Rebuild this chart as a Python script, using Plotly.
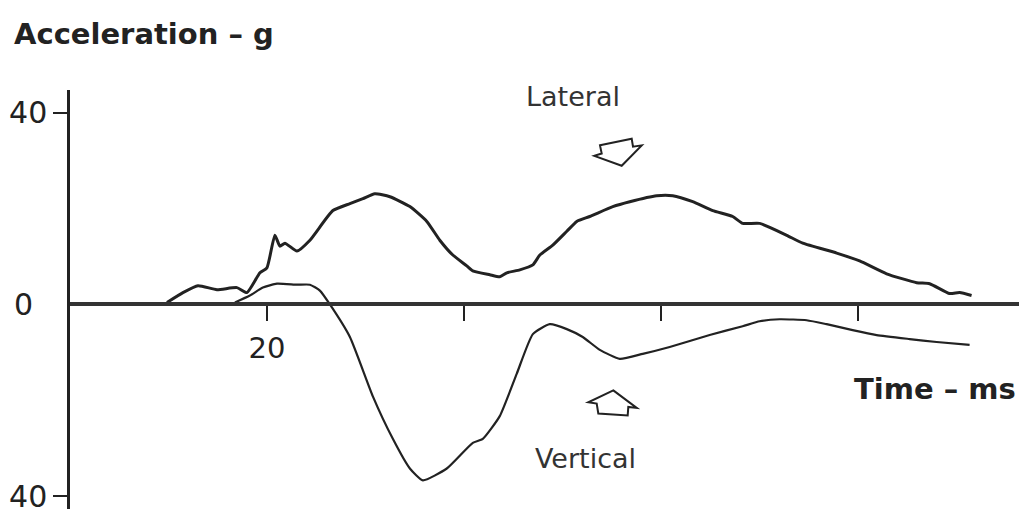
import plotly.graph_objects as go

# ---- data (time in ms, acceleration in g) ----
lateral_t = [9.85, 11.47, 13.0, 14.92, 16.95, 17.97, 19.29, 20.0, 20.81, 21.32, 21.83, 23.05,
             24.37, 26.70, 28.43, 29.75, 30.96, 32.49, 34.52, 36.24, 37.56, 38.88, 40.30,
             40.91, 42.64, 43.65, 44.37, 45.69, 47.01, 47.72, 49.04, 50.46, 51.47, 52.79,
             55.13, 56.85, 59.59, 61.22, 63.25, 65.28, 67.31, 68.32, 70.05, 72.79, 74.42,
             77.87, 80.20, 82.94, 85.99, 87.31, 89.34, 90.36, 91.57]
lateral_g = [0.41, 2.47, 3.92, 3.09, 3.51, 2.47, 6.6, 7.63, 14.43, 12.16, 12.78, 11.13,
             13.40, 19.59, 21.03, 22.06, 23.09, 22.47, 20.41, 17.32, 13.40, 10.31, 8.04,
             7.01, 6.19, 5.77, 6.60, 7.22, 8.25, 10.31, 12.37, 15.26, 17.32, 18.35,
             20.41, 21.44, 22.68, 22.68, 21.44, 19.59, 18.35, 16.91, 16.91, 14.43, 12.78,
             10.72, 9.07, 6.39, 4.54, 4.33, 2.27, 2.47, 1.86]

vertical_t = [16.75, 18.27, 19.59, 21.02, 23.05, 24.37, 25.38, 26.40, 28.43, 30.76, 32.79,
              34.52, 35.84, 38.27, 40.91, 41.93, 43.65, 45.38, 47.01, 48.73, 50.46, 52.08,
              53.81, 55.84, 58.17, 60.91, 64.97, 68.32, 70.05, 72.08, 74.82, 76.85, 79.49,
              81.93, 85.28, 88.02, 91.37]
vertical_g = [0.41, 1.86, 3.51, 4.33, 4.12, 4.12, 2.89, 0.0, -6.80, -19.18, -28.04,
              -34.23, -36.70, -34.23, -28.87, -28.04, -23.30, -14.43, -6.19, -4.12, -5.15, -6.80,
              -9.48, -11.34, -10.31, -8.87, -6.39, -4.54, -3.51, -3.09, -3.30, -4.12, -5.36,
              -6.39, -7.22, -7.84, -8.45]

x_tick_vals = [20, 40, 60, 80]
x_tick_text = ["20", "", "", ""]
y_tick_vals = [40, -40]
y_tick_text = ["40", "40"]
y_zero_vals = [0]
y_zero_text = ["0"]

# ---- layout geometry (reference pixel coords; page body has an 8px margin) ----
OFF = 8
W, H = 1027 - OFF, 514 - OFF
ML, MR, MT, MB = 70 - OFF, 0, 90 - OFF, 0
X_RANGE = [0, 97.2]
Y_RANGE = [-42.68, 44.74]
PW, PH = W - ML - MR, H - MT - MB


def px(xp):
    return (xp - OFF - ML) / PW


def py(yp):
    return (H - MB - (yp - OFF)) / PH


INK = "#222222"
FONT = "DejaVu Sans"

fig = go.Figure()
fig.add_trace(go.Scatter(x=lateral_t, y=lateral_g, mode="lines",
                         line=dict(color=INK, width=3, shape="spline", smoothing=0.5),
                         name="Lateral", showlegend=False, hoverinfo="skip"))
fig.add_trace(go.Scatter(x=vertical_t, y=vertical_g, mode="lines", yaxis="y2",
                         line=dict(color=INK, width=2.2, shape="spline", smoothing=0.5),
                         name="Vertical", showlegend=False, hoverinfo="skip"))

zero_pos = (0 - Y_RANGE[0]) / (Y_RANGE[1] - Y_RANGE[0])

fig.update_layout(
    width=W, height=H,
    margin=dict(l=ML, r=MR, t=MT, b=MB, pad=0),
    paper_bgcolor="white", plot_bgcolor="white",
    showlegend=False,
    xaxis=dict(range=X_RANGE, showgrid=False, zeroline=False,
               showline=True, linewidth=4, linecolor="#333333",
               anchor="free", position=zero_pos,
               ticks="outside", ticklen=15, tickwidth=2, tickcolor=INK,
               tickvals=x_tick_vals, ticktext=x_tick_text,
               ticklabelstandoff=2, ticklabeloverflow="allow",
               tickfont=dict(family=FONT, size=29, color=INK)),
    yaxis=dict(range=Y_RANGE, showgrid=False, zeroline=False,
               showline=True, linewidth=2.5, linecolor=INK,
               ticks="outside", ticklen=14, tickwidth=2, tickcolor=INK,
               tickvals=y_tick_vals, ticktext=y_tick_text,
               ticklabelstandoff=0, ticklabeloverflow="allow",
               tickfont=dict(family=FONT, size=30, color=INK)),
    yaxis2=dict(range=Y_RANGE, overlaying="y", side="left", showgrid=False,
                zeroline=False, showline=False, ticks="",
                tickvals=y_zero_vals, ticktext=y_zero_text,
                ticklabelstandoff=36, ticklabeloverflow="allow",
                tickfont=dict(family=FONT, size=30, color=INK)),
)

# ---- text ----
fig.add_annotation(xref="paper", yref="paper", x=px(12), y=py(33),
                   xanchor="left", yanchor="middle", showarrow=False,
                   text="<b>Acceleration – g</b>",
                   font=dict(family=FONT, size=29, color=INK))
fig.add_annotation(xref="paper", yref="paper", x=px(1018), y=py(393),
                   xanchor="right", yanchor="middle", showarrow=False,
                   text="<b>Time – ms</b>",
                   font=dict(family=FONT, size=29, color=INK))
fig.add_annotation(xref="paper", yref="paper", x=px(573), y=py(97),
                   xanchor="center", yanchor="middle", showarrow=False,
                   text="Lateral", font=dict(family=FONT, size=27, color="#333333"))
fig.add_annotation(xref="paper", yref="paper", x=px(585), y=py(463),
                   xanchor="center", yanchor="middle", showarrow=False,
                   text="Vertical", font=dict(family=FONT, size=27, color="#333333"))

# ---- outlined block arrows (reference pixel outline -> paper coords) ----
lateral_arrow = [(600, 146), (631.7, 139.3), (633, 147.3), (641.7, 146),
                 (621.7, 166.7), (594.3, 156.7), (601.7, 154.3)]
vertical_arrow = [(613.3, 394), (636.7, 411.7), (628.3, 410.7), (627.7, 419.3),
                  (598.3, 417.3), (596.7, 407.3), (588.3, 406)]


def path_of(pts):
    return "M " + " L ".join(f"{px(a):.5f},{py(b):.5f}" for a, b in pts) + " Z"


for pts in (lateral_arrow, vertical_arrow):
    fig.add_shape(type="path", xref="paper", yref="paper", path=path_of(pts),
                  line=dict(color=INK, width=2), fillcolor="rgba(0,0,0,0)")

fig.write_html("out.html")
